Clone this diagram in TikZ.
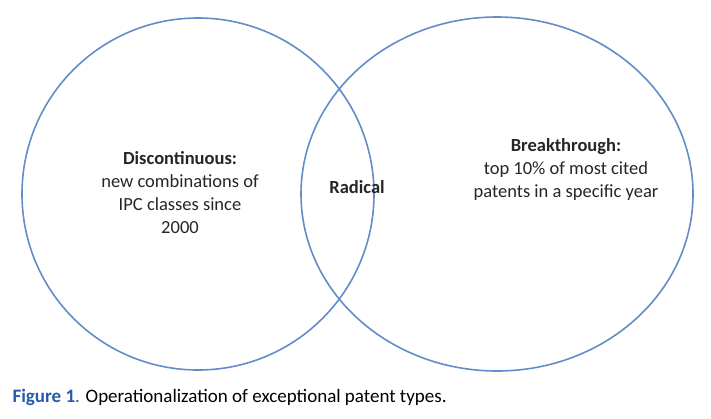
\documentclass[tikz,border=0pt]{standalone}
\usepackage{fontspec}
\setmainfont{Carlito}
\definecolor{ring}{RGB}{100,140,200}
\definecolor{cap}{RGB}{40,90,170}
\begin{document}
\begin{tikzpicture}[x=1pt,y=-1pt,
  lbl/.style={align=center,font=\fontsize{18.5}{23}\selectfont,text=black!85}]
\useasboundingbox[fill=white] (0,0) rectangle (711,418);
\draw[ring,line width=1.6pt] (198,194) circle (176);
\draw[ring,line width=1.6pt] (497,194) ellipse (196 and 177);
\node[lbl] (d) at (180,193) {\textbf{Discontinuous:}\\new combinations of\\IPC classes since\\2000};
\node[lbl] (r) at (357,187) {\textbf{Radical}};
\node[lbl] (b) at (566,169) {\textbf{Breakthrough:}\\top 10\% of most cited\\patents in a specific year};
\node[anchor=west,font=\fontsize{19}{22}\selectfont] (c) at (9,397) {\textcolor{cap}{\textbf{Figure 1}.} Operationalization of exceptional patent types.};
\end{tikzpicture}
\end{document}
